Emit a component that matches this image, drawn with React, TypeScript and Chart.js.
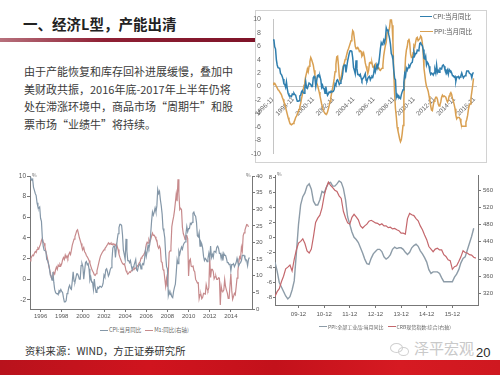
import React, { useEffect, useRef } from "react";
import { Chart, registerables } from "chart.js";
Chart.register(...registerables);

// CPI y/y, monthly, 1996-01 .. 2016-10
const cpiMonthly = [
  9.7, 9.8, 9.6, 9.7, 8.9, 8.6, 8.3, 8.1, 7.4, 7.0, 6.9, 7.0,
  5.9, 5.6, 4.0, 3.2, 2.8, 2.8, 2.7, 1.9, 1.8, 1.5, 1.1, 0.4,
  0.3, -0.1, 0.7, -0.3, -1.0, -1.3, -1.4, -1.4, -1.5, -1.1, -1.2, -1.0,
  -1.2, -1.3, -1.8, -2.2, -2.2, -2.1, -1.4, -1.3, -0.8, -0.6, -0.9, -1.0,
  -0.2, 0.7, -0.2, -0.3, 0.1, 0.5, 0.5, 0.3, 0.0, 0.0, 1.3, 1.5,
  1.2, 0.0, 0.8, 1.6, 1.7, 1.4, 1.5, 1.0, -0.1, 0.2, -0.3, -0.3,
  -1.0, 0.0, -0.8, -1.3, -1.1, -0.8, -0.9, -0.7, -0.7, -0.8, -0.7, -0.4,
  0.4, 0.2, 0.9, 1.0, 0.7, 0.3, 0.5, 0.9, 1.1, 1.8, 3.0, 3.2,
  3.2, 2.1, 3.0, 3.8, 4.4, 5.0, 5.3, 5.3, 5.2, 4.3, 2.8, 2.4,
  1.9, 3.9, 2.7, 1.8, 1.8, 1.6, 1.8, 1.3, 0.9, 1.2, 1.3, 1.6,
  1.9, 0.9, 0.8, 1.2, 1.4, 1.5, 1.0, 1.3, 1.5, 1.4, 1.9, 2.8,
  2.2, 2.7, 3.3, 3.0, 3.4, 4.4, 5.6, 6.5, 6.2, 6.5, 6.9, 6.5,
  7.1, 8.7, 8.3, 8.5, 7.7, 7.1, 6.3, 4.9, 4.6, 4.0, 2.4, 1.2,
  1.0, -1.6, -1.2, -1.5, -1.4, -1.7, -1.8, -1.2, -0.8, -0.5, 0.6, 1.9,
  1.5, 2.7, 2.4, 2.8, 3.1, 2.9, 3.3, 3.5, 3.6, 4.4, 5.1, 4.6,
  4.9, 4.9, 5.4, 5.3, 5.5, 6.4, 6.5, 6.2, 6.1, 5.5, 4.2, 4.1,
  4.5, 3.2, 3.6, 3.4, 3.0, 2.2, 1.8, 2.0, 1.9, 1.7, 2.0, 2.5,
  2.0, 3.2, 2.1, 2.4, 2.1, 2.7, 2.7, 2.6, 3.1, 3.2, 3.0, 2.5,
  2.5, 2.0, 2.4, 1.8, 2.5, 2.3, 2.3, 2.0, 1.6, 1.6, 1.4, 1.5,
  0.8, 1.4, 1.4, 1.5, 1.2, 1.4, 1.6, 2.0, 1.6, 1.3, 1.5, 1.6,
  1.8, 2.3, 2.3, 2.3, 2.0, 1.9, 1.8, 1.3, 1.9, 2.1,
];

// PPI y/y, monthly, 1996-11 .. 2016-10
const ppiMonthly = [
  0.3, 0.5,
  0.5, 0.3, 0.0, -0.2, -0.5, -0.6, -0.8, -1.0, -1.2, -1.6, -1.9, -2.3,
  -2.6, -3.1, -3.6, -4.1, -4.6, -5.0, -5.4, -5.6, -5.7, -5.6, -5.5, -5.3,
  -5.0, -4.6, -4.4, -4.1, -3.8, -3.4, -3.0, -2.5, -1.8, -1.2, -0.5, 0.2,
  0.8, 1.5, 2.0, 2.6, 2.2, 3.0, 3.7, 4.3, 4.0, 3.6, 3.2, 2.4,
  1.7, 1.2, 0.6, 0.2, -0.3, -0.8, -1.4, -2.0, -2.6, -3.1, -3.5, -3.8,
  -4.0, -4.1, -4.1, -3.8, -3.3, -2.8, -2.2, -1.6, -0.9, -0.3, 0.4, 1.2,
  2.2, 3.3, 4.4, 4.5, 3.2, 1.5, 0.8, 1.2, 1.9, 2.6, 3.1, 3.5,
  4.0, 4.3, 4.8, 5.3, 5.6, 6.0, 6.4, 6.8, 7.4, 8.3, 8.1, 7.1,
  6.0, 5.6, 5.7, 5.8, 5.6, 5.2, 5.3, 5.2, 4.5, 4.7, 5.0, 4.4,
  3.5, 3.0, 2.5, 1.9, 2.4, 3.5, 3.6, 3.4, 3.5, 2.9, 2.8, 3.1,
  3.3, 2.6, 2.7, 2.9, 2.8, 2.5, 2.4, 2.6, 2.7, 3.2, 4.6, 5.4,
  6.1, 6.6, 8.0, 8.1, 8.2, 8.8, 10.0, 10.1, 9.1, 6.6, 2.0, -1.1,
  -3.3, -4.5, -6.0, -6.6, -7.2, -7.8, -8.2, -7.9, -7.0, -5.8, -2.1, 1.7,
  4.3, 5.4, 5.9, 6.8, 7.1, 6.4, 4.8, 4.3, 4.3, 5.0, 6.1, 5.9,
  6.6, 7.2, 7.3, 6.8, 6.8, 7.1, 7.5, 7.3, 6.5, 5.0, 2.7, 1.7,
  0.7, 0.0, -0.3, -0.7, -1.4, -2.1, -2.9, -3.5, -3.6, -2.8, -2.2, -1.9,
  -1.6, -1.6, -1.9, -2.6, -2.9, -2.7, -2.3, -1.6, -1.3, -1.5, -1.4, -1.4,
  -1.6, -2.0, -2.3, -2.0, -1.4, -1.1, -0.9, -1.2, -1.8, -2.2, -2.7, -3.3,
  -4.3, -4.8, -4.6, -4.6, -4.6, -4.8, -5.4, -5.9, -5.9, -5.9, -5.9, -5.9,
  -5.3, -4.9, -4.3, -3.4, -2.8, -2.6, -1.7, -0.8, 0.1, 1.2,
];

// M1 y/y (right axis), monthly, 1996-01 .. 2016-09
const m1Monthly = [
  14.5, 15.2, 15.8, 16.2, 16.0, 16.8, 17.3, 17.0, 17.9, 18.4, 18.1, 18.9,
  19.5, 20.6, 21.2, 20.1, 19.8, 18.7, 17.3, 16.2, 15.0, 13.4, 12.1, 11.0,
  9.5, 9.0, 10.2, 11.0, 10.5, 11.8, 12.6, 11.9, 13.2, 12.8, 13.5, 13.0,
  13.6, 14.8, 15.5, 14.9, 16.2, 15.4, 16.0, 15.3, 16.4, 17.0, 16.4, 17.7,
  19.2, 20.1, 21.0, 21.8, 22.6, 23.5, 23.8, 22.7, 21.5, 20.6, 19.7, 18.6,
  17.9, 18.5, 17.2, 16.8, 16.1, 15.7, 15.2, 14.6, 13.8, 12.9, 12.1, 11.4,
  11.0, 10.3, 10.1, 10.6, 11.5, 12.6, 13.8, 14.9, 15.9, 16.5, 17.0, 17.4,
  17.8, 18.2, 18.5, 19.0, 19.4, 19.9, 19.5, 19.8, 19.4, 19.7, 19.3, 19.6,
  19.4, 19.0, 19.6, 18.8, 17.9, 16.5, 15.6, 14.9, 14.2, 13.7, 13.4, 13.6,
  12.8, 11.5, 11.0, 10.5, 10.8, 11.2, 11.0, 11.5, 11.6, 11.8, 12.4, 12.1,
  12.3, 12.5, 13.0, 13.3, 13.9, 14.2, 15.3, 15.6, 16.0, 16.3, 16.8, 17.5,
  19.4, 20.1, 19.8, 20.9, 20.2, 20.9, 21.9, 22.8, 22.1, 22.2, 21.7, 21.0,
  20.7, 18.9, 18.3, 18.9, 18.1, 14.2, 14.0, 11.9, 11.5, 9.1, 6.8, 9.1,
  6.7, 10.9, 17.0, 17.5, 18.7, 24.8, 26.4, 27.7, 29.5, 32.0, 34.6, 32.4,
  39.0, 34.9, 29.9, 30.3, 29.9, 24.6, 22.7, 21.9, 20.9, 22.1, 22.1, 21.2,
  9.9, 14.5, 15.0, 12.9, 12.7, 13.1, 11.6, 11.2, 8.9, 8.4, 7.8, 7.9,
  3.1, 4.3, 4.4, 3.1, 3.5, 4.7, 4.6, 4.5, 7.3, 6.1, 5.5, 6.5,
  15.3, 9.5, 11.9, 11.9, 11.3, 9.1, 9.7, 9.9, 8.9, 8.9, 9.4, 9.3,
  1.2, 6.9, 5.4, 5.3, 5.7, 8.9, 6.7, 5.7, 4.8, 3.2, 3.2, 3.2,
  10.6, 5.6, 2.9, 3.7, 4.7, 4.3, 6.6, 9.3, 11.4, 14.0, 15.7, 15.2,
  18.6, 17.4, 22.1, 22.9, 23.7, 24.6, 25.4, 25.3, 24.7,
];

// CRB spot index (right axis), monthly, 2009-01 .. 2016-11
const crbMonthly = [
  313, 324, 331, 347, 360, 377, 381, 386, 372, 399,
  421, 437, 441, 447, 436, 419, 414, 423, 452, 485,
  495, 502, 519, 547, 566, 579, 571, 566, 560, 557,
  547, 541, 511, 496, 484, 481, 497, 504, 498, 491,
  477, 472, 477, 481, 488, 490, 487, 484, 483, 479,
  482, 477, 477, 473, 474, 470, 471, 468, 466, 460,
  460, 458, 494, 506, 503, 501, 494, 489, 477, 468,
  456, 445, 429, 423, 417, 423, 425, 421, 421, 410,
  406, 398, 396, 376, 382, 384, 394, 405, 419, 415,
  414, 410, 409, 404, 402,
];

const topTickLabels = ["1996-11", "1998-11", "2000-11", "2002-11", "2004-11", "2006-11", "2008-11", "2010-11", "2012-11", "2014-11", "2016-11"];
const leftYearLabels = ["1996", "1998", "2000", "2002", "2004", "2006", "2008", "2010", "2012", "2014"];
const rightYearLabels = ["09-12", "10-12", "11-12", "12-12", "13-12", "14-12", "15-12"];
const topYTicks = [-10, -8, -6, -4, -2, 0, 2, 4, 6, 8, 10];
const blLeftTicks = [-2, 0, 2, 4, 6, 8, 10];
const blRightTicks = [0, 5, 10, 15, 20, 25, 30, 35, 40];
const brLeftTicks = [-8, -6, -4, -2, 0, 2, 4, 6, 8];
const brRightTicks = [320, 360, 400, 440, 480, 520, 560];

const FONT = "'Liberation Sans', 'DejaVu Sans', sans-serif";
const CJK = "'Noto Sans CJK SC', 'Noto Sans', sans-serif";

const pts = (arr: number[], offset: number) => arr.map((v, i) => ({ x: i + offset, y: v }));
const setTicks = (vals: number[]) => (s: any) => {
  s.ticks = vals.map((v) => ({ value: v }));
};

function ChartCanvas(props: { make: () => any; left: number; top: number; width: number; height: number }) {
  const ref = useRef<HTMLCanvasElement>(null);
  useEffect(() => {
    const c = new Chart(ref.current as HTMLCanvasElement, props.make());
    return () => c.destroy();
  }, []);
  return (
    <canvas
      ref={ref}
      width={props.width}
      height={props.height}
      style={{ position: "absolute", left: props.left, top: props.top, width: props.width, height: props.height }}
    />
  );
}

const baseOpts = (padding: any) => ({
  animation: false,
  responsive: false,
  devicePixelRatio: 1,
  layout: { padding },
  plugins: { legend: { display: false }, tooltip: { enabled: false } },
  elements: { point: { radius: 0 }, line: { tension: 0 } },
});

const makeTop = () => ({
  type: "line",
  data: {
    datasets: [
      { label: "CPI:当月同比", data: pts(cpiMonthly.slice(10), 0), borderColor: "#2f7eae", borderWidth: 1.5, pointRadius: 0 },
      { label: "PPI:当月同比", data: pts(ppiMonthly, 0), borderColor: "#d9a052", borderWidth: 1.5, pointRadius: 0 },
    ],
  },
  options: {
    ...baseOpts({ left: 0, top: 7, right: 10, bottom: 7 }),
    scales: {
      x: {
        type: "linear",
        position: { y: 0 },
        min: 0,
        max: 242,
        afterBuildTicks: setTicks(topTickLabels.map((_, i) => i * 24)),
        grid: { display: false },
        border: { color: "#c4c4c4", width: 1 },
        ticks: {
          autoSkip: false,
          minRotation: 45,
          maxRotation: 45,
          padding: 1,
          color: "#666",
          font: { size: 6.5, family: FONT },
          callback: (_v: any, i: number) => topTickLabels[i],
        },
      },
      y: {
        min: -10,
        max: 10,
        afterBuildTicks: setTicks(topYTicks),
        afterFit: (s: any) => { s.width = 24; },
        grid: { display: false },
        border: { color: "#c4c4c4" },
        ticks: { color: "#666", padding: 4, font: { size: 7, family: FONT } },
      },
    },
  },
});

const makeBL = () => ({
  type: "line",
  data: {
    datasets: [
      { label: "CPI:当月同比", data: pts(cpiMonthly, 0), borderColor: "#8497a8", borderWidth: 1.2, pointRadius: 0, yAxisID: "y" },
      { label: "M1:同比(右轴)", data: pts(m1Monthly, 0), borderColor: "#c78a8c", borderWidth: 1.2, pointRadius: 0, yAxisID: "y1" },
    ],
  },
  options: {
    ...baseOpts({ left: 0, top: 6, right: 0, bottom: 0 }),
    scales: {
      x: {
        type: "linear",
        min: 0,
        max: 252,
        afterBuildTicks: setTicks(leftYearLabels.map((_, i) => 12 + i * 24)),
        afterFit: (s: any) => { s.height = 11; },
        grid: { drawOnChartArea: false, tickLength: 3, color: "#777" },
        border: { color: "#777" },
        ticks: { autoSkip: false, maxRotation: 0, padding: 1, color: "#555", font: { size: 6, family: FONT }, callback: (_v: any, i: number) => leftYearLabels[i] },
      },
      y: {
        position: "left",
        min: -2.9,
        max: 10,
        afterBuildTicks: setTicks(blLeftTicks),
        afterFit: (s: any) => { s.width = 30; },
        grid: { drawOnChartArea: false, tickLength: 3, color: "#777" },
        border: { color: "#777" },
        ticks: { color: "#555", padding: 1, font: { size: 6.5, family: FONT } },
      },
      y1: {
        position: "right",
        min: 0,
        max: 40,
        afterBuildTicks: setTicks(blRightTicks),
        afterFit: (s: any) => { s.width = 13; },
        grid: { drawOnChartArea: false, tickLength: 3, color: "#777" },
        border: { color: "#777" },
        ticks: { color: "#555", padding: 1, font: { size: 6, family: FONT } },
      },
    },
  },
});

const makeBR = () => ({
  type: "line",
  data: {
    datasets: [
      { label: "CRB现货指数:综合(右轴)", data: pts(crbMonthly, 0), borderColor: "#c4676c", borderWidth: 1.2, pointRadius: 0, yAxisID: "y1" },
      { label: "PPI:全部工业品:当月同比", data: pts(ppiMonthly.slice(146), 0), borderColor: "#8d9ca8", borderWidth: 1.4, pointRadius: 0, yAxisID: "y" },
    ],
  },
  options: {
    ...baseOpts({ left: 0, top: 3, right: 0, bottom: 0 }),
    scales: {
      x: {
        type: "linear",
        min: 0,
        max: 95,
        afterBuildTicks: setTicks(rightYearLabels.map((_, i) => 11 + i * 12)),
        afterFit: (s: any) => { s.height = 15; },
        grid: { drawOnChartArea: false, tickLength: 3, color: "#777" },
        border: { color: "#777" },
        ticks: { autoSkip: false, maxRotation: 0, padding: 3, color: "#555", font: { size: 6, family: FONT }, callback: (_v: any, i: number) => rightYearLabels[i] },
      },
      y: {
        position: "left",
        min: -9,
        max: 8.2,
        afterBuildTicks: setTicks(brLeftTicks),
        afterFit: (s: any) => { s.width = 13; },
        grid: { drawOnChartArea: false, tickLength: 2, color: "#777" },
        border: { color: "#777" },
        ticks: { color: "#555", padding: 1, font: { size: 6, family: FONT } },
      },
      y1: {
        position: "right",
        min: 293,
        max: 594,
        afterBuildTicks: setTicks(brRightTicks),
        afterFit: (s: any) => { s.width = 22; },
        grid: { drawOnChartArea: false, tickLength: 3, color: "#777" },
        border: { color: "#777" },
        ticks: { color: "#555", padding: 2, font: { size: 6, family: FONT } },
      },
    },
  },
});

const abs = (left: number, top: number, extra: any = {}) => ({ position: "absolute" as const, left, top, ...extra });

export default function App() {
  return (
    <div style={{ position: "fixed", left: 0, top: 0, width: 500, height: 375, overflow: "hidden", background: "#fff", fontFamily: CJK }}>
      {/* title */}
      <div style={abs(23, 15, { fontSize: 14.5, fontWeight: 700, color: "#222", lineHeight: "18px", whiteSpace: "nowrap" })}>一、经济L型，产能出清</div>
      <div style={abs(0, 38, { width: 258, height: 4, background: "linear-gradient(to right, #b7707c, #8f2034 40%, #7e1328)" })} />

      {/* paragraph */}
      <div style={abs(24, 63, { fontSize: 11, color: "#3a3a3a", lineHeight: "17.7px", whiteSpace: "nowrap" })}>
        <div>由于产能恢复和库存回补进展缓慢，叠加中</div>
        <div>美财政共振，2016年底-2017年上半年仍将</div>
        <div>处在滞涨环境中，商品市场“周期牛”和股</div>
        <div>票市场“业绩牛”将持续。</div>
      </div>

      {/* top right chart */}
      <div style={abs(255, 10, { width: 230, height: 151, border: "1px solid #d2d2d2", background: "#fff" })} />
      <ChartCanvas make={makeTop} left={249} top={11} width={237} height={151} />
      <div style={abs(420, 12, { fontSize: 6.5, color: "#555", lineHeight: "9px", whiteSpace: "nowrap" })}>
        <div style={{ display: "flex", alignItems: "center" }}>
          <span style={{ display: "inline-block", width: 12, height: 1.6, background: "#2f7eae", marginRight: 1 }} />CPI:当月同比
        </div>
        <div style={{ display: "flex", alignItems: "center", marginTop: 6 }}>
          <span style={{ display: "inline-block", width: 13, height: 1.6, background: "#d9a052", marginRight: 1 }} />PPI:当月同比
        </div>
      </div>

      {/* bottom left chart */}
      <ChartCanvas make={makeBL} left={0} top={170} width={265} height={150} />
      <div style={abs(32, 171, { fontSize: 5, color: "#666" })}>%</div>
      <div style={abs(246, 171, { fontSize: 5, color: "#666" })}>%</div>
      <div style={abs(100, 326, { fontSize: 5.5, color: "#666", whiteSpace: "nowrap", display: "flex", alignItems: "center" })}>
        <span style={{ display: "inline-block", width: 8, height: 1, background: "#8497a8", marginRight: 1 }} />CPI:当月同比
        <span style={{ display: "inline-block", width: 8, height: 1, background: "#c78a8c", margin: "0 1px 0 4px" }} />M1:同比(右轴)
      </div>

      {/* bottom right chart */}
      <ChartCanvas make={makeBR} left={262} top={170} width={238} height={150} />
      <div style={abs(277, 170, { fontSize: 5, color: "#666" })}>%</div>
      <div style={abs(319, 323, { fontSize: 5, color: "#666", whiteSpace: "nowrap", display: "flex", alignItems: "center" })}>
        <span style={{ display: "inline-block", width: 8, height: 1, background: "#8d9ca8", marginRight: 1 }} />PPI:全部工业品:当月同比
        <span style={{ display: "inline-block", width: 8, height: 1, background: "#c4676c", margin: "0 1px 0 4px" }} />CRB现货指数:综合(右轴)
      </div>

      {/* source */}
      <div style={abs(25, 344, { fontSize: 10.3, color: "#333", lineHeight: "14px", whiteSpace: "nowrap" })}>资料来源：WIND，方正证券研究所</div>

      {/* watermark + page number */}
      <div style={abs(390, 343, { width: 11, height: 8, border: "1px solid #d0d0d0", borderRadius: "50%" })} />
      <div style={abs(398, 347, { width: 9, height: 7, border: "1px solid #d0d0d0", borderRadius: "50%" })} />
      <div style={abs(414, 339, { fontSize: 15, color: "#c9c9c9", lineHeight: "18px", whiteSpace: "nowrap" })}>泽平宏观</div>
      <div style={abs(476, 346, { fontSize: 13, color: "#2a2a2a", lineHeight: "14px", fontFamily: FONT })}>20</div>

      {/* bottom band */}
      <div style={abs(0, 360, { width: 500, height: 15, background: "linear-gradient(to right, #b8121c, #d0141e 30%, #c3111b 55%, #d61a22 80%, #cf1820)" })} />
    </div>
  );
}
